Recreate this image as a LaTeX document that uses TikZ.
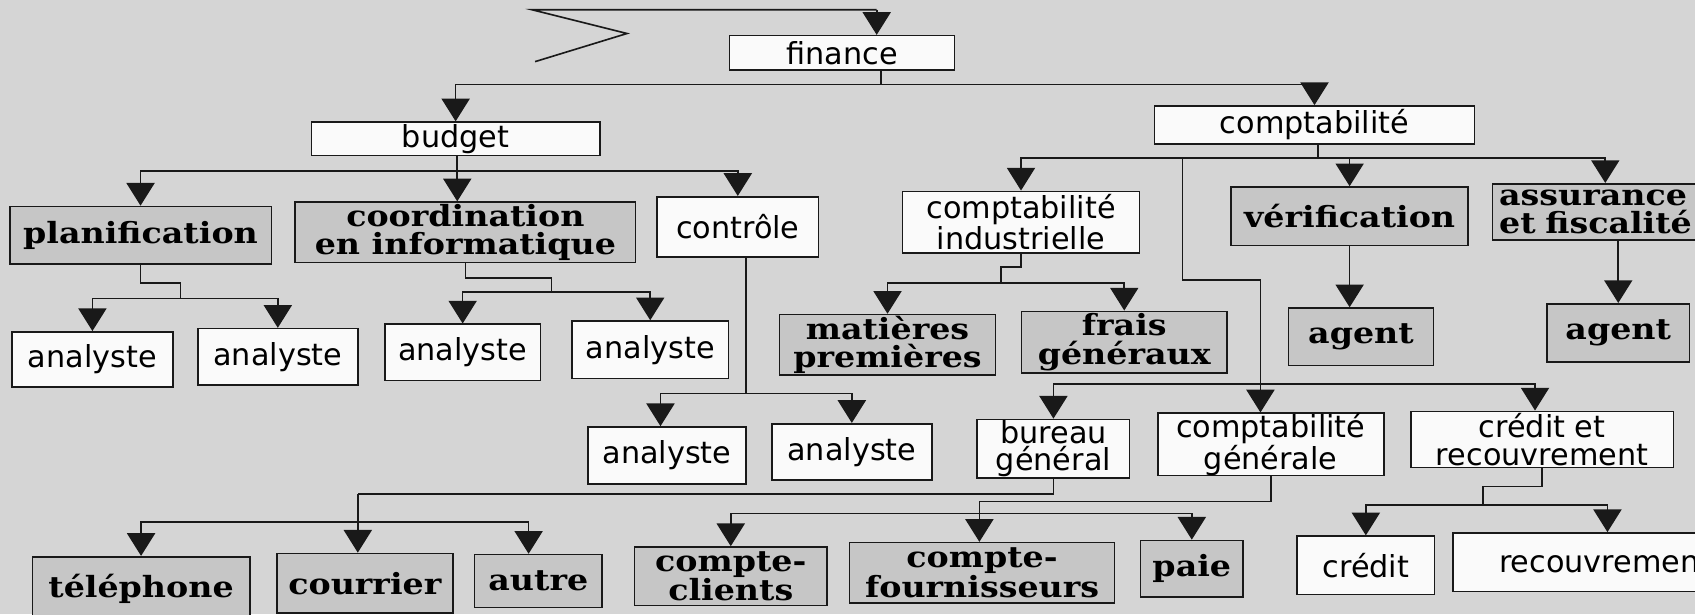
\documentclass[tikz,border=0pt]{standalone}
\usepackage{fontspec}
\setmainfont{DejaVu Sans}
\newfontfamily\gserif[FakeStretch=1.14]{DejaVu Serif}
\usetikzlibrary{arrows.meta}
\definecolor{bgc}{RGB}{213,213,213}
\definecolor{boxg}{RGB}{198,198,198}
\definecolor{boxw}{RGB}{250,250,250}
\definecolor{ink}{RGB}{25,25,25}
\newcommand\wfnt{\fontsize{28}{25.5}\selectfont}
\newcommand\gfnt{\gserif\bfseries\fontsize{27}{26}\selectfont}
\tikzset{
 base/.style={draw=ink, line width=1.5pt, inner sep=0pt, align=center},
 wbox/.style={base, fill=boxw, font=\wfnt},
 gbox/.style={base, fill=boxg, font=\gfnt},
 link/.style={draw=ink, line width=1.5pt},
 arr/.style={link, -{Triangle[width=26pt,length=21pt]}},
}
\begin{document}
\begin{tikzpicture}[x=1pt,y=-1pt]
\useasboundingbox (0,0) rectangle (1568,568);
\clip (0,0) rectangle (1568,568);
\fill[bgc] (0,0) rectangle (1568,568);

% ---------- nodes ----------
\node[wbox, minimum width=208pt, minimum height=32pt] (finance) at (779,49) {finance};
\node[wbox, minimum width=267pt, minimum height=31pt] (budget) at (421.5,128.5) {budget};
\node[wbox, minimum width=296pt, minimum height=35pt] (compta) at (1216,115.5) {comptabilité};

\node[gbox, minimum width=242pt, minimum height=53pt] (plan) at (130,217.5) {planification};
\node[gbox, minimum width=315pt, minimum height=56pt] (coord) at (430.5,215) {coordination\\en informatique};
\node[wbox, minimum width=149pt, minimum height=56pt] (controle) at (682.5,210) {contrôle};
\node[wbox, minimum width=219pt, minimum height=57pt] (cind) at (944.5,205.5) {comptabilité\\industrielle};
\node[gbox, minimum width=219pt, minimum height=54pt] (verif) at (1248.5,200) {vérification};
\node[gbox, anchor=west, text width=220pt, align=left, inner xsep=6pt, minimum height=52pt] (assur) at (1380,196) {assurance\\et fiscalité};

\node[wbox, minimum width=149pt, minimum height=51pt] (an1) at (85.5,332.5) {analyste};
\node[wbox, minimum width=148pt, minimum height=52pt] (an2) at (257,330) {analyste};
\node[wbox, minimum width=144pt, minimum height=52pt] (an3) at (428,326) {analyste};
\node[wbox, minimum width=145pt, minimum height=53pt] (an4) at (601.5,323.5) {analyste};
\node[gbox, minimum width=200pt, minimum height=56pt] (mat) at (821,319) {matières\\premières};
\node[gbox, minimum width=190pt, minimum height=57pt] (frais) at (1040,316.5) {frais\\généraux};
\node[gbox, minimum width=134pt, minimum height=53pt] (ag1) at (1259,311.5) {agent};
\node[gbox, minimum width=132pt, minimum height=54pt] (ag2) at (1497,308) {agent};

\node[wbox, minimum width=146pt, minimum height=53pt] (an5) at (617,421.5) {analyste};
\node[wbox, minimum width=148pt, minimum height=52pt] (an6) at (788,418) {analyste};
\node[wbox, minimum width=141pt, minimum height=54pt] (bureau) at (974.5,415) {bureau\\général};
\node[wbox, minimum width=209pt, minimum height=53pt] (cgen) at (1175.5,411) {comptabilité\\générale};
\node[wbox, minimum width=243pt, minimum height=52pt] (credrec) at (1426.5,406.5) {crédit et\\recouvrement};

\node[gbox, minimum width=201pt, minimum height=60pt] (tel) at (130.5,545) {téléphone};
\node[gbox, minimum width=163pt, minimum height=55pt] (cour) at (337.5,539.5) {courrier};
\node[gbox, minimum width=118pt, minimum height=49pt] (autre) at (498,537.5) {autre};
\node[gbox, minimum width=178pt, minimum height=54pt] (ccli) at (676,533) {compte-\\clients};
\node[gbox, minimum width=245pt, minimum height=56pt] (cfou) at (908.5,530) {compte-\\fournisseurs};
\node[gbox, minimum width=95pt, minimum height=52pt] (paie) at (1102.5,526) {paie};
\node[wbox, minimum width=127pt, minimum height=54pt] (credit) at (1263.5,523) {crédit};
\node[wbox, minimum width=282pt, minimum height=54pt] (recouv) at (1485,520) {recouvrement};

% ---------- connectors ----------
% top entry
\coordinate (t0) at (492,9);
\coordinate (t1) at (811,9);
\coordinate (z1) at (580,31);
\coordinate (z2) at (495,57);
\draw[link, line join=miter] (z2) -- (z1) -- (t0) -- (t1);
\draw[arr] (t1) -- (t1 |- finance.north);

% finance
\coordinate (j1) at (815,78);
\draw[link] (finance.south -| j1) -- (j1);
\draw[arr] (j1) -| (budget.north);
\draw[arr] (j1) -| (compta.north);

% budget
\coordinate (j2) at (423,158);
\draw[link] (budget.south -| j2) -- (j2);
\draw[arr] (j2) -| (plan.north);
\draw[arr] (j2) -- (j2 |- coord.north);
\draw[arr] (j2) -| (controle.north);

% comptabilite
\coordinate (j3) at (1219,146);
\coordinate (a3) at (1485,146);
\draw[link] (compta.south -| j3) -- (j3);
\draw[arr] (j3) -| (cind.north);
\draw[arr] (j3) -| (verif.north);
\draw[arr] (j3) -- (a3) -- (a3 |- assur.north);
\coordinate (k1) at (1094,146);
\coordinate (k2) at (1094,259);
\coordinate (k3) at (1166,259);
\coordinate (j10) at (1166,355);
\coordinate (a10) at (1420,355);
\draw[link] (k1) -- (k2) -- (k3) -- (j10);
\draw[arr] (j10) -- (j10 |- cgen.north);
\draw[arr] (j10) -| (bureau.north);
\draw[arr] (j10) -- (a10) -- (a10 |- credrec.north);

% planification
\coordinate (j4) at (167,276);
\draw[link] (plan.south) |- (167,262) -- (j4);
\draw[arr] (j4) -| (an1.north);
\draw[arr] (j4) -| (an2.north);

% coordination
\coordinate (j5) at (510,270);
\draw[link] (coord.south) |- (510,257) -- (j5);
\draw[arr] (j5) -| (an3.north);
\draw[arr] (j5) -| (an4.north);

% controle
\coordinate (j6) at (690,364);
\coordinate (a6) at (611,364);
\draw[link] (controle.south -| j6) -- (j6);
\draw[arr] (j6) -- (a6) -- (a6 |- an5.north);
\draw[arr] (j6) -| (an6.north);

% comptabilite industrielle
\coordinate (j7) at (926,262);
\draw[link] (cind.south) |- (926,247) -- (j7);
\draw[arr] (j7) -| (mat.north);
\draw[arr] (j7) -| (frais.north);

% verification, assurance
\draw[arr] (verif.south) -- (verif.south |- ag1.north);
\draw[arr] (ag2.north |- assur.south) -- (ag2.north);

% bureau general
\coordinate (j11) at (331,457);
\coordinate (j11b) at (331,483);
\coordinate (a11) at (489,483);
\draw[link] (bureau.south) |- (j11);
\draw[arr] (j11) -- (j11 |- cour.north);
\draw[arr] (j11b) -| (tel.north);
\draw[arr] (j11b) -- (a11) -- (a11 |- autre.north);

% comptabilite generale
\coordinate (j12) at (906,475);
\draw[link] (cgen.south) |- (906,464) -- (j12);
\draw[arr] (j12) -| (ccli.north);
\draw[arr] (j12) -- (j12 |- cfou.north);
\draw[arr] (j12) -| (paie.north);

% credit et recouvrement
\coordinate (j13) at (1372,467);
\coordinate (a13) at (1487,467);
\draw[link] (credrec.south) |- (1372,450) -- (j13);
\draw[arr] (j13) -| (credit.north);
\draw[arr] (j13) -- (a13) -- (a13 |- recouv.north);
\end{tikzpicture}
\end{document}
